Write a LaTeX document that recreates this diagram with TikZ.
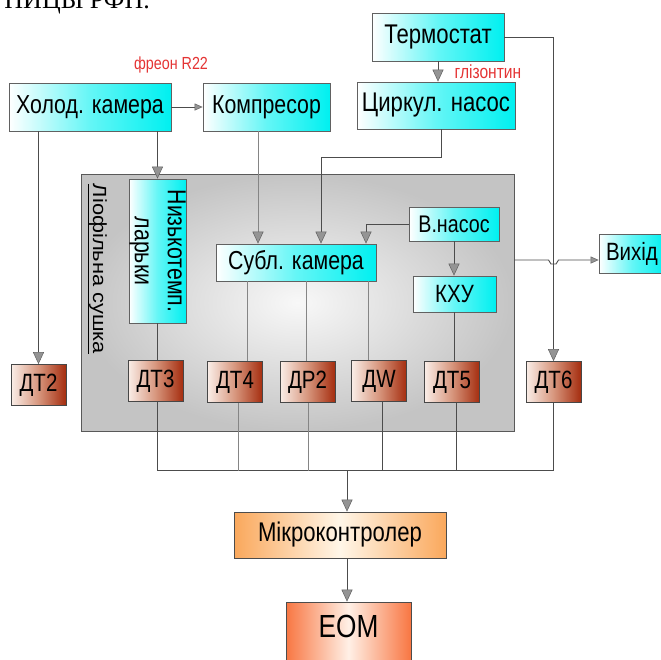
\documentclass[tikz,border=0pt]{standalone}
\usepackage{fontspec}
\setmainfont{Liberation Sans}[FakeStretch=0.82]
\newfontfamily\widefont{Liberation Sans}[FakeStretch=1.15]
\newfontfamily\seriffont{Liberation Serif}
\usetikzlibrary{arrows.meta,calc}
\definecolor{cyR}{RGB}{0,240,240}
\definecolor{cyM}{RGB}{100,246,246}
\definecolor{brL}{RGB}{250,238,232}
\definecolor{brM}{RGB}{215,150,125}
\definecolor{brR}{RGB}{165,45,15}
\definecolor{orE}{RGB}{250,168,92}
\definecolor{orC}{RGB}{255,246,232}
\definecolor{eoE}{RGB}{248,118,66}
\definecolor{eoC}{RGB}{255,240,230}
\definecolor{grI}{RGB}{248,248,248}
\definecolor{grO}{RGB}{196,196,196}
\definecolor{redtxt}{RGB}{228,52,52}
\begin{document}
\begin{tikzpicture}[x=1pt,y=-1pt,
  cybox/.style={draw=black!62, line width=0.8pt, left color=white, right color=cyR, middle color=cyM, inner sep=0pt, font=\fontsize{26}{28}\selectfont},
  dtbox/.style={draw=black!72, line width=0.8pt, left color=brL, right color=brR, middle color=brM, inner sep=0pt, minimum width=55pt, minimum height=41pt, font=\fontsize{25}{27}\selectfont},
  conn/.style={draw=black!70, line width=0.9pt},
  connl/.style={draw=black!48, line width=0.9pt},
  tip/.style={-{Triangle[length=12pt,width=11pt,fill=black!42,color=black!62,line width=0.5pt]}},
  smalltip/.style={-{Triangle[length=8pt,width=7pt,fill=black!42,color=black!62,line width=0.5pt]}},
  redlabel/.style={text=redtxt, inner sep=0pt}
]
\useasboundingbox (0,0) rectangle (661,659);

% page text fragment at the top
\node[font=\seriffont\fontsize{26}{26}\selectfont, anchor=base east, inner sep=0pt] (pagetext) at (150,8) {НИЦЫ РФП.};

% big gray block
\node[draw=black!65, line width=0.8pt, inner color=grI, outer color=grO, minimum width=433pt, minimum height=257pt, inner sep=0pt] (lio) at (297.5,302.5) {};
\node[rotate=-90, font=\widefont\fontsize{19}{20}\selectfont, inner sep=0pt] (liolabel) at (97,269) {\underline{Ліофільна сушка}};

% cyan boxes
\node[cybox, minimum width=162pt, minimum height=48pt] (holod) at (90,107) {Холод. камера};
\node[cybox, minimum width=127pt, minimum height=48pt] (kompr) at (266.5,107) {Компресор};
\node[cybox, minimum width=132pt, minimum height=48pt, font=\fontsize{27}{29}\selectfont] (termo) at (438,37) {Термостат};
\node[cybox, minimum width=158pt, minimum height=47pt, font=\fontsize{27}{29}\selectfont] (tsyrk) at (436,105.5) {Циркул. насос};
\node[cybox, minimum width=57pt, minimum height=144pt] (nyzko) at (157.5,251) {};
\node[rotate=-90, align=center, font=\fontsize{26}{33}\selectfont, inner sep=0pt] (nyzkotext) at (nyzko.center) {Низькотемп.\\ларьки};
\node[cybox, minimum width=160pt, minimum height=37pt] (subl) at (296,262.5) {Субл. камера};
\node[cybox, minimum width=90pt, minimum height=34pt, font=\fontsize{24}{26}\selectfont] (vnasos) at (454,224) {В.насос};
\node[cybox, minimum width=83pt, minimum height=36pt, font=\fontsize{25}{27}\selectfont] (khu) at (454.5,294) {КХУ};
\node[cybox, minimum width=66pt, minimum height=39pt, font=\fontsize{25}{27}\selectfont] (vyhid) at (632,253.5) {Вихід};

% sensors
\node[dtbox] (dt2) at (38.5,385) {ДТ2};
\node[dtbox] (dt3) at (155.5,381) {ДТ3};
\node[dtbox] (dt4) at (235,382) {ДТ4};
\node[dtbox] (dp2) at (307.5,382) {ДР2};
\node[dtbox] (dw) at (379,381) {ДW};
\node[dtbox] (dt5) at (452,382) {ДТ5};
\node[dtbox] (dt6) at (553.5,382) {ДТ6};

% controller and computer
\node[draw=black!70, line width=0.8pt, left color=orE, right color=orE, middle color=orC, minimum width=212pt, minimum height=46pt, inner sep=0pt, font=\fontsize{27}{29}\selectfont] (mikro) at (340,535) {Мікроконтролер};
\node[draw=black!70, line width=0.8pt, left color=eoE, right color=eoE, middle color=eoC, minimum width=125pt, minimum height=62pt, inner sep=0pt] (eom) at (348.5,633) {};
\node[font=\fontsize{32}{34}\selectfont, inner sep=0pt] (eomtext) at (348.5,626) {ЕОМ};

% red labels
\node[redlabel, font=\fontsize{17.5}{19}\selectfont] (freon) at (171,65) {фреон R22};
\node[redlabel, font=\fontsize{19}{20}\selectfont] (gliz) at (488,72) {глізонтин};

% connectors
\draw[conn, smalltip] (holod.east) -- (kompr.west);
\draw[conn, tip] (holod.south -| dt2.north) -- (dt2.north);
\draw[conn, tip] (holod.south -| nyzko.north) -- (nyzko.north);
\coordinate (k1) at ([xshift=-8.5pt]kompr.south);
\draw[connl, tip] (k1) -- (k1 |- subl.north);
\coordinate (c1) at ([xshift=5pt]tsyrk.south);
\coordinate (s1) at ([xshift=25pt]subl.north);
\draw[conn, tip] (c1) -- ++(0,28) -| (s1);
\draw[conn, tip] (termo.south) -- (termo.south |- tsyrk.north);
\draw[conn, tip] (termo.east) -| (dt6.north);
\coordinate (s2) at ([xshift=70pt]subl.north);
\draw[conn, tip] (vnasos.west) -| (s2);
\draw[conn, tip] (vnasos.south) -- (vnasos.south |- khu.north);

% output line with a bridge over the DT6 line
\coordinate (vy) at ([yshift=-6.5pt]vyhid.west);
\coordinate (br) at (dt6.north |- vy);
\draw[conn, smalltip] (lio.east |- vy) -- ([xshift=-5pt]br) -- ([xshift=-2.5pt,yshift=-4pt]br) -- ([xshift=2.5pt,yshift=-4pt]br) -- ([xshift=5pt]br) -- (vy);

% chamber to sensors
\draw[conn] (nyzko.south) -- (nyzko.south |- dt3.north);
\coordinate (t4) at ([xshift=12pt]dt4.north);
\draw[connl] (subl.south -| t4) -- (t4);
\coordinate (tp) at ([xshift=-1.5pt]dp2.north);
\draw[connl] (subl.south -| tp) -- (tp);
\coordinate (tw) at ([xshift=-11pt]dw.north);
\draw[connl] (subl.south -| tw) -- (tw);
\draw[conn] (khu.south) -- (khu.south |- dt5.north);

% bus
\coordinate (bc) at ([xshift=7pt,yshift=41pt]mikro.north);
\draw[conn] ([xshift=1.5pt]dt3.south) |- (bc) -| (dt6.south);
\coordinate (b4) at ([xshift=3pt]dt4.south);
\draw[connl] (b4) -- (b4 |- bc);
\coordinate (bp) at ([xshift=1pt]dp2.south);
\draw[connl] (bp) -- (bp |- bc);
\coordinate (bw) at ([xshift=3.5pt]dw.south);
\draw[conn] (bw) -- (bw |- bc);
\coordinate (b5) at ([xshift=4pt]dt5.south);
\draw[conn] (b5) -- (b5 |- bc);
\draw[conn, tip] (bc) -- (bc |- mikro.north);
\draw[conn, tip] (bc |- mikro.south) -- (bc |- eom.north);
\end{tikzpicture}
\end{document}
